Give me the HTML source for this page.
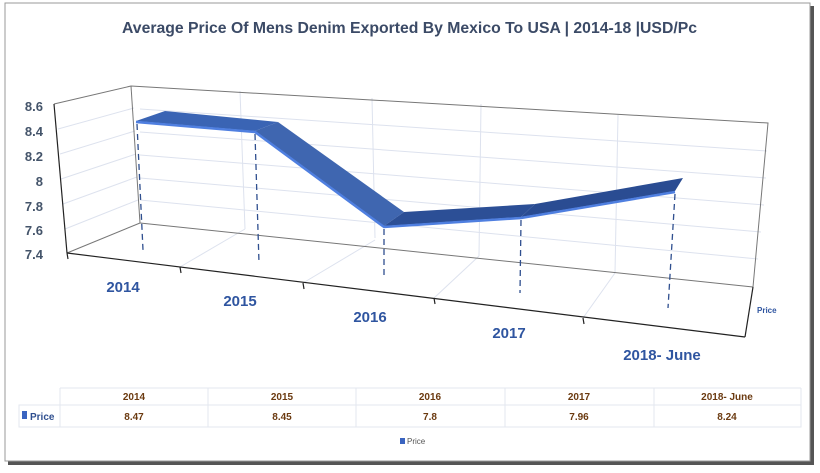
<!DOCTYPE html>
<html><head><meta charset="utf-8"><style>
body{margin:0;background:#fff;}
svg{display:block;font-family:"Liberation Sans",sans-serif;}
</style></head><body>
<svg width="820" height="473" viewBox="0 0 820 473">
<defs>
<linearGradient id="rib" x1="0" y1="0" x2="0" y2="1"><stop offset="0" stop-color="#3a63b0"/><stop offset="1" stop-color="#28498f"/></linearGradient>
</defs>
<rect x="0" y="0" width="820" height="473" fill="#fff"/>
<!-- frame shadow -->
<rect x="8" y="6" width="806" height="459" fill="#555"/>
<rect x="5" y="3" width="805" height="458" fill="#fff" stroke="#999" stroke-width="1"/>
<text x="122" y="33" font-size="16" font-weight="bold" fill="#3b4a66" textLength="575" lengthAdjust="spacingAndGlyphs">Average Price Of Mens Denim Exported By Mexico To USA | 2014-18 |USD/Pc</text>
<!-- back wall gridlines -->
<g stroke="#dde2ee" stroke-width="1" fill="none">
<line x1="140" y1="109" x2="767" y2="151"/>
<line x1="140" y1="132" x2="766" y2="178"/>
<line x1="140" y1="155" x2="764" y2="205"/>
<line x1="140" y1="178" x2="761" y2="232"/>
<line x1="140" y1="200" x2="758" y2="259"/>
<!-- side wall -->
<line x1="58" y1="129" x2="134" y2="108"/>
<line x1="60" y1="154" x2="135" y2="131"/>
<line x1="61" y1="179" x2="136" y2="154"/>
<line x1="63" y1="204" x2="137" y2="177"/>
<line x1="65" y1="229" x2="138" y2="200"/>
<!-- vertical on back wall -->
<line x1="240" y1="91" x2="245" y2="229"/>
<line x1="372" y1="98" x2="375" y2="238"/>
<line x1="481" y1="104" x2="479" y2="256"/>
<line x1="618" y1="115" x2="615" y2="273"/>
<!-- floor -->
<line x1="180" y1="267" x2="245" y2="229"/>
<line x1="303" y1="283" x2="375" y2="240"/>
<line x1="434" y1="298" x2="479" y2="256"/>
<line x1="583" y1="318" x2="615" y2="273"/>
</g>
<!-- walls edges -->
<g stroke="#777" stroke-width="1" fill="none">
<polyline points="54,104 131,86 768,123 753,287"/>
<line x1="131" y1="86" x2="140" y2="223"/>
<line x1="140" y1="223" x2="753" y2="287"/>
<line x1="67" y1="253" x2="140" y2="223"/>
</g>
<g stroke="#222" stroke-width="1.2" fill="none">
<line x1="54" y1="104" x2="67" y2="253"/>
<line x1="67" y1="253" x2="745" y2="337"/>
<line x1="753" y1="287" x2="745" y2="337"/>
<line x1="67" y1="253" x2="68" y2="259"/>
<line x1="180" y1="267" x2="181" y2="273"/>
<line x1="303" y1="283" x2="304" y2="289"/>
<line x1="434" y1="298" x2="435" y2="304"/>
<line x1="583" y1="318" x2="584" y2="324"/>
</g>
<!-- y labels -->
<g font-size="13" font-weight="bold" fill="#44546a" text-anchor="end">
<text x="43" y="111">8.6</text><text x="43" y="136">8.4</text><text x="43" y="161">8.2</text>
<text x="43" y="186">8</text><text x="43" y="211">7.8</text><text x="43" y="235">7.6</text><text x="43" y="259">7.4</text>
</g>
<!-- ribbon -->
<polygon points="136,121 165,111 278,122 255,131" fill="#3a64b4"/>
<polygon points="255,131 278,122 404,212 384,226" fill="#3f66b0"/>
<polygon points="384,226 404,212 535,204 521,217" fill="#2c4f96"/>
<polygon points="521,217 535,204 683,178 675,191" fill="#2a4c92"/>
<polyline points="136,122 255,132 384,227 521,218 675,192" stroke="#4f7fe0" stroke-width="2.5" fill="none"/>
<!-- drop lines -->
<g stroke="#2f4f8f" stroke-width="1.3" stroke-dasharray="6,4" fill="none">
<line x1="137" y1="124" x2="143" y2="250"/>
<line x1="255" y1="134" x2="259" y2="263"/>
<line x1="384" y1="229" x2="384" y2="278"/>
<line x1="521" y1="220" x2="520" y2="293"/>
<line x1="675" y1="194" x2="668" y2="308"/>
</g>
<!-- category labels -->
<g font-size="15" font-weight="bold" fill="#2f55a0" text-anchor="middle">
<text x="123" y="292">2014</text><text x="240" y="306">2015</text><text x="370" y="322">2016</text>
<text x="509" y="338">2017</text><text x="662" y="360">2018- June</text>
</g>
<text x="757" y="313" font-size="8" font-weight="bold" fill="#2f55a0">Price</text>
<!-- table -->
<g stroke="#e3e7ef" stroke-width="1" fill="none">
<rect x="19" y="405" width="782" height="22"/>
<line x1="60" y1="388" x2="801" y2="388"/>
<line x1="801" y1="388" x2="801" y2="405"/>
<line x1="60" y1="388" x2="60" y2="427"/>
<line x1="208" y1="388" x2="208" y2="427"/>
<line x1="356" y1="388" x2="356" y2="427"/>
<line x1="505" y1="388" x2="505" y2="427"/>
<line x1="654" y1="388" x2="654" y2="427"/>
</g>
<g font-size="10" font-weight="bold" fill="#6b3a10" text-anchor="middle">
<text x="134" y="400">2014</text><text x="282" y="400">2015</text><text x="430" y="400">2016</text><text x="579" y="400">2017</text><text x="727" y="400">2018- June</text>
<text x="134" y="420">8.47</text><text x="282" y="420">8.45</text><text x="430" y="420">7.8</text><text x="579" y="420">7.96</text><text x="727" y="420">8.24</text>
</g>
<rect x="22" y="411" width="5" height="8" fill="#3a64c0"/>
<text x="30" y="420" font-size="10" font-weight="bold" fill="#2f4f8f">Price</text>
<rect x="400" y="438" width="5" height="6" fill="#3a64c0"/>
<text x="407" y="444" font-size="8" fill="#555">Price</text>
</svg>
</body></html>
